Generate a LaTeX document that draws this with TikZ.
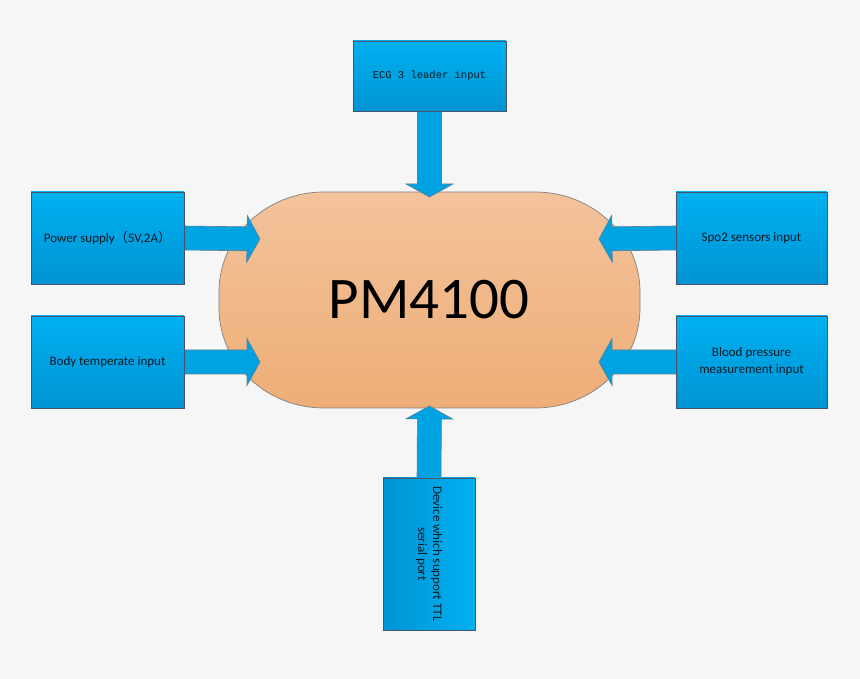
\documentclass[tikz,border=0pt]{standalone}
\usepackage{fontspec}
\setmainfont{Carlito}
\newfontfamily\cjk{Noto Sans CJK SC}
\newfontfamily\monof{Liberation Mono}
\usetikzlibrary{calc,backgrounds}
\definecolor{bg}{HTML}{F6F6F6}
\definecolor{bluetop}{HTML}{00B0F0}
\definecolor{bluebot}{HTML}{0094D4}
\definecolor{boxline}{HTML}{44546A}
\definecolor{arrfill}{HTML}{00A3E2}
\definecolor{arrline}{HTML}{5F7F96}
\definecolor{orgtop}{HTML}{F3C39B}
\definecolor{orgbot}{HTML}{EEAD76}
\definecolor{orgline}{HTML}{808080}
\definecolor{txt}{HTML}{0B1A26}
\newcommand\fatarrow[2]{%
  \coordinate (fb) at ($(#2)!13pt!(#1)$);
  \draw[fat] ($(#1)!12pt!90:(#2)$) -- ($(fb)!12pt!-90:(#1)$) -- ($(fb)!23.5pt!-90:(#1)$)
    -- (#2) -- ($(fb)!23.5pt!90:(#1)$) -- ($(fb)!12pt!90:(#1)$) -- ($(#1)!12pt!-90:(#2)$) -- cycle;}
\begin{document}
\begin{tikzpicture}[x=1pt,y=1pt,
  box/.style={draw=boxline, line width=0.7pt, top color=bluetop, bottom color=bluebot,
    font=\fontsize{13}{17}\selectfont, text=txt, align=center, inner sep=0pt},
  fat/.style={draw=arrline, line width=0.6pt, fill=arrfill}]
\useasboundingbox (0,0) rectangle (860,679);
% boxes
\node[box, minimum width=153, minimum height=70, font=\monof\fontsize{10.5}{13}\selectfont] (ecg) at (429.5,603) {ECG 3 leader input};
\node[box, minimum width=153, minimum height=92] (pw) at (107.5,441) {Power supply{\cjk（}5V,2A{\cjk）}};
\node[box, minimum width=153, minimum height=92] (bt) at (107.5,317) {Body temperate input};
\node[box, minimum width=151, minimum height=92] (spo) at (751.5,441) {Spo2 sensors input};
\node[box, minimum width=151, minimum height=92] (bp) at (751.5,317) {Blood pressure\\measurement input};
\node[box, minimum width=92, minimum height=152, shading angle=90, left color=bluebot, right color=bluetop] (dev) at (429,125) {};
\node[rotate=-90, font=\fontsize{13}{15}\selectfont, text=txt, align=center, inner sep=0pt] (devt) at (dev.center) {Device which support TTL\\serial port};
% centre
\node[font=\fontsize{59}{60}\selectfont, text=black, inner sep=0pt] (pm) at (429,379) {PM4100};
% tips
\coordinate (t1) at (260,440);
\coordinate (t2) at (260,317);
\coordinate (t3) at (599,440);
\coordinate (t4) at (599,317);
\coordinate (t5) at (429.5,482);
\coordinate (t6) at (429.5,273);
\coordinate (s1) at ($(pw.east)+(-1,0)$);
\coordinate (s2) at ($(bt.east)+(-1,0)$);
\coordinate (s3) at ($(spo.west)+(1,0)$);
\coordinate (s4) at ($(bp.west)+(1,0)$);
\coordinate (s5) at ($(ecg.south)+(0,1)$);
\coordinate (s6) at ($(dev.north)+(0,-1)$);
\begin{scope}[on background layer]
\fill[bg] (0,0) rectangle (860,679);
\draw[draw=orgline, line width=0.7pt, top color=orgtop, bottom color=orgbot]
  (324,487) -- (535,487) arc[start angle=90, end angle=0, x radius=105, y radius=100]
  -- (640,371) arc[start angle=0, end angle=-90, x radius=105, y radius=100]
  -- (324,271) arc[start angle=270, end angle=180, x radius=105, y radius=100]
  -- (219,387) arc[start angle=180, end angle=90, x radius=105, y radius=100] -- cycle;
\fatarrow{s1}{t1}
\fatarrow{s2}{t2}
\fatarrow{s3}{t3}
\fatarrow{s4}{t4}
\fatarrow{s5}{t5}
\fatarrow{s6}{t6}
\end{scope}
\end{tikzpicture}
\end{document}
